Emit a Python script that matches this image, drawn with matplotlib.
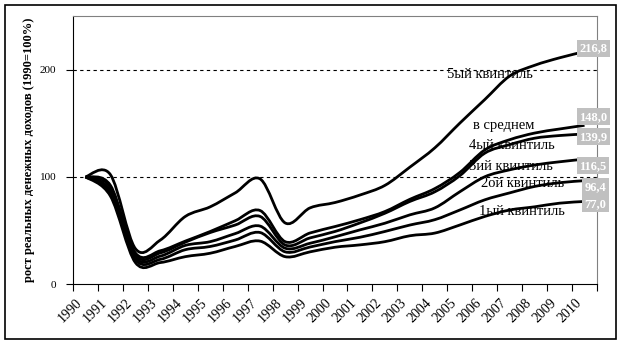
import matplotlib
matplotlib.use("Agg")
import matplotlib.pyplot as plt
from matplotlib.path import Path
from matplotlib.patches import PathPatch, Rectangle
from matplotlib.transforms import ScaledTranslation

years = [str(y) for y in range(1990, 2011)]

q5 = [100, 102, 33, 41, 63, 72, 85, 98, 57, 71, 76, 83, 92, 109, 127, 150, 172, 194, 204, 211, 216.8]
avg = [100, 92, 29, 31, 40, 49, 59, 68.5, 39.5, 47.6, 53.6, 60, 67.6, 79, 89, 104, 125, 134.6, 140.8, 144.6, 148.0]
q4 = [100, 90, 27, 29, 39, 48, 55, 63, 36.4, 43, 49, 57, 66, 77, 86, 101, 122, 130, 136, 138.5, 139.9]
q3 = [100, 87, 25, 26, 36, 39.5, 47, 54, 33.4, 38, 44, 50.5, 56.7, 64.5, 71, 86, 100, 106.5, 111, 114, 116.5]
q2 = [100, 85, 23, 23, 32, 35, 41, 48, 30, 34.5, 39.5, 43.6, 49, 55, 60, 69, 78.5, 85, 91, 94.5, 96.4]
q1 = [100, 82, 20, 20, 25.5, 28.7, 35, 40, 25.5, 30, 34.3, 36.5, 39.5, 45, 47.5, 55, 63, 69, 72, 75.4, 77.0]

series = [q5, avg, q4, q3, q2, q1]
series_names = ['5ый квинтиль', 'в среднем', '4ый квинтиль', '3ий квинтиль', '2ой квинтиль', '1ый квинтиль']

serif = 'Liberation Serif'


def smooth_path(ys):
    # Excel-like smoothed line: cubic bezier with catmull-rom tangents
    xs = list(range(len(ys)))
    n = len(ys)
    verts = [(xs[0], ys[0])]
    codes = [Path.MOVETO]
    for i in range(n - 1):
        p0 = (xs[max(i - 1, 0)], ys[max(i - 1, 0)])
        p1 = (xs[i], ys[i])
        p2 = (xs[i + 1], ys[i + 1])
        p3 = (xs[min(i + 2, n - 1)], ys[min(i + 2, n - 1)])
        c1 = (p1[0] + (p2[0] - p0[0]) / 6, p1[1] + (p2[1] - p0[1]) / 6)
        c2 = (p2[0] - (p3[0] - p1[0]) / 6, p2[1] - (p3[1] - p1[1]) / 6)
        verts += [c1, c2, p2]
        codes += [Path.CURVE4] * 3
    return Path(verts, codes)


fig = plt.figure(figsize=(6.22, 3.44), dpi=100)
ax = fig.add_axes([73 / 622, 1 - 284 / 344, 524 / 622, 268 / 344])

for ys in series:
    ax.add_patch(PathPatch(smooth_path(ys), facecolor='none', edgecolor='black',
                           linewidth=2.0, capstyle='butt', zorder=3))

ax.set_xlim(-0.5, len(years) - 0.5)
ax.set_ylim(0, 250)

# grid
for gy in [100, 200]:
    ax.axhline(gy, color='black', linewidth=0.8, linestyle=(0, (3, 3)), zorder=1)

# spines
ax.spines['top'].set_color('#808080')
ax.spines['right'].set_color('#808080')
ax.spines['left'].set_color('black')
ax.spines['bottom'].set_color('black')

# y axis
ax.set_yticks([0, 100, 200])
ax.set_yticklabels(['0', '100', '200'], fontfamily=serif, fontsize=8)
ax.tick_params(axis='y', direction='out', length=5, pad=7, width=0.8)

# x axis: ticks between categories, labels on categories
ax.set_xticks(range(len(years)))
ax.set_xticklabels(years, fontfamily=serif, fontsize=10, rotation=45,
                   ha='right', va='top', rotation_mode='anchor')
ax.set_xticks([i - 0.5 for i in range(len(years) + 1)], minor=True)
ax.tick_params(axis='x', which='major', length=0, pad=9)
ax.tick_params(axis='x', which='minor', direction='out', length=5, width=0.8)
shift = ScaledTranslation(-10 / 100, 0, fig.dpi_scale_trans)
for lab in ax.get_xticklabels():
    lab.set_transform(lab.get_transform() + shift)

# series name labels
name_pos = [(16.22, 195), (16.77, 147.5), (17.07, 129), (17.07, 109.5), (17.5, 93.5), (17.5, 68)]
for name, (nx, ny) in zip(series_names, name_pos):
    ax.text(nx, ny, name, fontfamily=serif, fontsize=10.5, ha='center', va='center', zorder=2)

# end value labels
end_offsets = [(-5, 3.5), (-5, 8.5), (-5, -2.7), (-5, -6.7), (0, -6), (0, -2.5)]
for ys, (dx, dy) in zip(series, end_offsets):
    ax.annotate(f'{ys[-1]:.1f}'.replace('.', ','), xy=(len(ys) - 1, ys[-1]),
                xytext=(dx, dy), textcoords='offset pixels',
                ha='left', va='center', fontfamily=serif, fontsize=9,
                fontweight='bold', color='white', zorder=5, annotation_clip=False,
                bbox=dict(boxstyle='square,pad=0.2', facecolor='#c0c0c0', edgecolor='none'))

fig.text(29 / 622, 1 - 150 / 344, 'рост реальных денежных доходов (1990=100%)',
         rotation=90, ha='center', va='center', fontfamily=serif,
         fontsize=9, fontweight='bold')

# outer frame
fig.patches.append(Rectangle((5 / 622, 5 / 344), 611 / 622, 334 / 344, transform=fig.transFigure,
                             fill=False, edgecolor='black', linewidth=1.2))

fig.savefig('out.png', dpi=100)
